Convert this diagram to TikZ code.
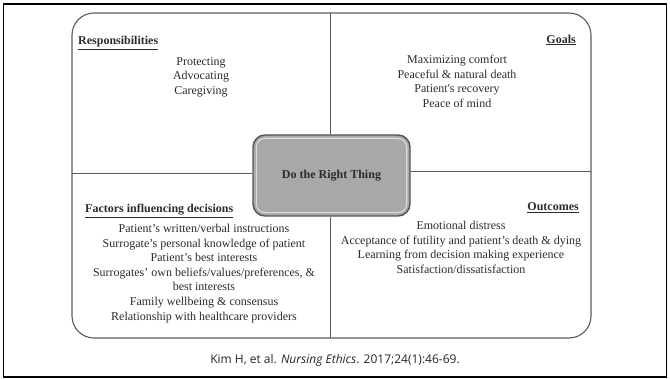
\documentclass[tikz,border=0pt]{standalone}
\usepackage{fontspec}
\setmainfont{Liberation Serif}
\newfontfamily\citefont{Open Sans}
\usetikzlibrary{calc}
\definecolor{textgray}{HTML}{2B2B2B}
\definecolor{linegray}{HTML}{5A5A5A}
\definecolor{boxfill}{HTML}{A8A8A8}
\definecolor{boxedge}{HTML}{555555}
\begin{document}
\begin{tikzpicture}[x=1pt,y=-1pt,
  txt/.style={inner sep=0pt, text=textgray, font=\fontsize{12}{14.6}\selectfont, align=center},
  head/.style={inner sep=0pt, text=textgray, font=\fontsize{12}{14.6}\selectfont\bfseries},
  divider/.style={draw=linegray, line width=0.9pt},
  panel/.style={draw=linegray, line width=1.1pt, rounded corners=22pt},
  centerbox/.style={draw=boxedge, fill=boxfill, line width=1.4pt, rounded corners=12pt,
    minimum width=157pt, minimum height=81pt, inner sep=0pt, text=textgray,
    font=\fontsize{12}{14}\selectfont\bfseries},
]
\useasboundingbox (0,0) rectangle (670,379);
% outer frame
\draw[black, line width=1.6pt] (3.5,4) rectangle (666.5,377);
% panel
\draw[panel] (72,13) rectangle (591,338);
% centre box
\node[centerbox] (ctr) at (331.5,175.5) {Do the Right Thing};
\draw[white, opacity=0.6, line width=1.1pt, rounded corners=9pt]
  ($(ctr.south west)+(4,-4)$) rectangle ($(ctr.north east)+(-4,4)$);
% dividers
\coordinate (ptop) at (330.5,13);
\coordinate (pbot) at (330.5,338);
\coordinate (pleft) at (72,173);
\coordinate (pright) at (591,171);
\draw[divider] (ptop) -- (ptop |- ctr.north);
\draw[divider] (pbot) -- (pbot |- ctr.south);
\draw[divider] (pleft) -- (pleft -| ctr.west);
\draw[divider] (pright) -- (pright -| ctr.east);
% headings
\node[head, anchor=west] (hresp) at (78,43) {\underline{Responsibilities}};
\node[head, anchor=east] (hgoals) at (576,40) {\underline{Goals}};
\node[head, anchor=west] (hfact) at (85,211) {\underline{Factors influencing decisions}};
\node[head, anchor=east] (hout) at (579,208) {\underline{Outcomes}};
% items
\node[txt, anchor=north] (resp) at (201,57) {Protecting\\Advocating\\Caregiving};
\node[txt, anchor=north] (goals) at (457,55) {Maximizing comfort\\Peaceful \& natural death\\Patient\textquotesingle s recovery\\Peace of mind};
\node[txt, anchor=north] (fact) at (204,224) {Patient's written/verbal instructions\\Surrogate's personal knowledge of patient\\Patient's best interests\\Surrogates' own beliefs/values/preferences, \&\\best interests\\Family wellbeing \& consensus\\Relationship with healthcare providers};
\node[txt, anchor=north] (out) at (461,221) {Emotional distress\\Acceptance of futility and patient's death \& dying\\Learning from decision making experience\\Satisfaction/dissatisfaction};
% citation
\node[inner sep=0pt, text=black!85, font=\citefont\fontsize{12}{14}\selectfont] (cite) at (335,360) {Kim H, et al. \textit{Nursing Ethics}. 2017;24(1):46-69.};
\end{tikzpicture}
\end{document}
